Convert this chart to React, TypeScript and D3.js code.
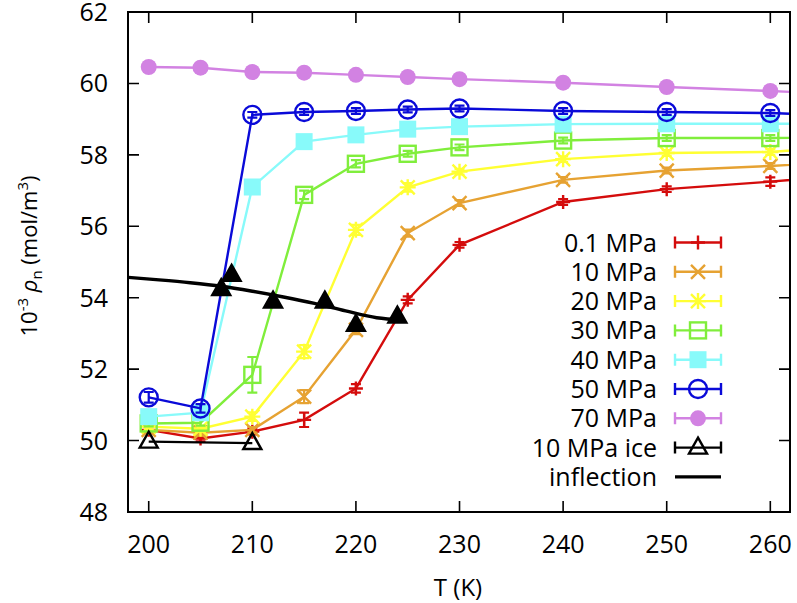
import React, { useEffect, useRef } from 'react';
import * as d3 from 'd3';

// temperatures (K); 270 lies outside the axis and is clipped
const temps = [200, 205, 210, 215, 220, 225, 230, 240, 250, 260, 270];

const seriesNames = ['0.1 MPa', '10 MPa', '20 MPa', '30 MPa', '40 MPa', '50 MPa', '70 MPa'];
const seriesColors = ['#d40c0c', '#e6a232', '#ffff33', '#80ee3c', '#88fafa', '#0a0ad8', '#d282e2'];
const seriesMarkers = ['plus', 'cross', 'star', 'square', 'fsquare', 'circle', 'fcircle'];

const rho01 = [50.3, 50.06, 50.25, 50.58, 51.46, 53.94, 55.48, 56.68, 57.04, 57.25, 57.5];
const rho10 = [50.3, 50.22, 50.3, 51.23, 53.1, 55.81, 56.65, 57.3, 57.56, 57.69, 57.85];
const rho20 = [50.39, 50.33, 50.67, 52.49, 55.9, 57.09, 57.53, 57.88, 58.05, 58.08, 58.3];
const rho30 = [50.48, 50.5, 51.84, 56.88, 57.75, 58.03, 58.21, 58.4, 58.47, 58.47, 58.5];
const rho40 = [50.67, 50.78, 57.1, 58.37, 58.56, 58.72, 58.79, 58.86, 58.87, 58.87, 58.87];
const rho50 = [51.21, 50.9, 59.12, 59.2, 59.23, 59.27, 59.3, 59.23, 59.2, 59.17, 59.08];
const rho70 = [60.46, 60.44, 60.32, 60.3, 60.24, 60.18, 60.12, 60.02, 59.9, 59.79, 59.65];

const err01 = [0.08, 0.08, 0.08, 0.2, 0.12, 0.1, 0.08, 0.08, 0.08, 0.12, 0.1];
const err10 = [0.08, 0.08, 0.08, 0.18, 0.12, 0.1, 0.08, 0.08, 0.08, 0.08, 0.08];
const err20 = [0.08, 0.08, 0.12, 0.18, 0.14, 0.12, 0.08, 0.08, 0.08, 0.08, 0.08];
const err30 = [0.08, 0.08, 0.5, 0.12, 0.1, 0.08, 0.08, 0.08, 0.08, 0.08, 0.08];
const err40 = [0.08, 0.08, 0.12, 0.08, 0.08, 0.08, 0.08, 0.08, 0.08, 0.08, 0.08];
const err50 = [0.15, 0.12, 0.08, 0.08, 0.08, 0.08, 0.08, 0.08, 0.08, 0.08, 0.08];
const err70 = [0.06, 0.06, 0.06, 0.06, 0.06, 0.06, 0.06, 0.06, 0.06, 0.06, 0.06];

const allRho = [rho01, rho10, rho20, rho30, rho40, rho50, rho70];
const allErr = [err01, err10, err20, err30, err40, err50, err70];

// 10 MPa ice
const iceTemps = [200, 210];
const iceRho = [49.97, 49.93];

// inflection points (filled triangles)
const inflTemps = [207, 208, 212, 217, 220, 224];
const inflRho = [54.24, 54.64, 53.89, 53.89, 53.24, 53.47];

// inflection curve
const curveTemps = [198, 201, 204, 207, 210, 213, 216, 219, 222, 224.5];
const curveRho = [54.57, 54.5, 54.42, 54.32, 54.18, 54.02, 53.84, 53.63, 53.44, 53.38];

const xTicks = [200, 210, 220, 230, 240, 250, 260];
const yTicks = [48, 50, 52, 54, 56, 58, 60, 62];

const FONT = '"Open Sans", sans-serif';

function drawMarker(g: any, type: string, x: number, y: number, color: string) {
  const sw = 2.4;
  if (type === 'plus') {
    g.append('path').attr('d', `M${x - 7},${y}H${x + 7}M${x},${y - 7}V${y + 7}`)
      .attr('stroke', color).attr('stroke-width', sw);
  } else if (type === 'cross') {
    g.append('path').attr('d', `M${x - 7},${y - 7}L${x + 7},${y + 7}M${x - 7},${y + 7}L${x + 7},${y - 7}`)
      .attr('stroke', color).attr('stroke-width', sw);
  } else if (type === 'star') {
    g.append('path').attr('d', `M${x - 7},${y - 7}L${x + 7},${y + 7}M${x - 7},${y + 7}L${x + 7},${y - 7}M${x - 8},${y}H${x + 8}M${x},${y - 8}V${y + 8}`)
      .attr('stroke', color).attr('stroke-width', sw);
  } else if (type === 'square') {
    g.append('rect').attr('x', x - 8).attr('y', y - 8).attr('width', 16).attr('height', 16)
      .attr('fill', 'none').attr('stroke', color).attr('stroke-width', sw);
  } else if (type === 'fsquare') {
    g.append('rect').attr('x', x - 8.5).attr('y', y - 8.5).attr('width', 17).attr('height', 17)
      .attr('fill', color);
  } else if (type === 'circle') {
    g.append('circle').attr('cx', x).attr('cy', y).attr('r', 9)
      .attr('fill', 'none').attr('stroke', color).attr('stroke-width', sw);
  } else if (type === 'fcircle') {
    g.append('circle').attr('cx', x).attr('cy', y).attr('r', 8).attr('fill', color);
  } else if (type === 'triangle' || type === 'ftriangle') {
    g.append('path').attr('d', `M${x},${y - 10}L${x + 9},${y + 6}L${x - 9},${y + 6}Z`)
      .attr('fill', type === 'ftriangle' ? color : 'none')
      .attr('stroke', color).attr('stroke-width', sw).attr('stroke-linejoin', 'miter');
  }
}

export default function App() {
  const ref = useRef<SVGSVGElement>(null);

  useEffect(() => {
    const width = 797;
    const height = 603;
    const margins = { l: 128, r: 7, t: 12, b: 91 };
    const plotwidth = width - margins.l - margins.r;
    const plotheight = height - margins.t - margins.b;

    const svg = d3.select(ref.current);
    svg.selectAll('*').remove();

    const xScale = d3.scaleLinear().domain([198, 261.9]).range([0, plotwidth]);
    const yScale = d3.scaleLinear().domain([48, 62]).range([plotheight, 0]);

    svg.append('defs').append('clipPath').attr('id', 'plotclip')
      .append('rect').attr('x', 0).attr('y', 0).attr('width', plotwidth).attr('height', plotheight);

    const plot = svg.append('g').attr('transform', `translate(${margins.l}, ${margins.t})`);
    const data = plot.append('g').attr('clip-path', 'url(#plotclip)');

    const line = d3.line<[number, number]>().x((d) => xScale(d[0])).y((d) => yScale(d[1]));

    // pressure series
    allRho.forEach((rho, si) => {
      const color = seriesColors[si];
      const pts: [number, number][] = temps.map((t, i) => [t, rho[i]]);
      const g = data.append('g');
      g.append('path').attr('d', line(pts)).attr('fill', 'none')
        .attr('stroke', color).attr('stroke-width', 2.4);
      temps.forEach((t, i) => {
        const x = xScale(t);
        const y0 = yScale(rho[i] - allErr[si][i]);
        const y1 = yScale(rho[i] + allErr[si][i]);
        g.append('path').attr('d', `M${x},${y0}V${y1}M${x - 5},${y0}H${x + 5}M${x - 5},${y1}H${x + 5}`)
          .attr('stroke', color).attr('stroke-width', 2.2).attr('fill', 'none');
        drawMarker(g, seriesMarkers[si], x, yScale(rho[i]), color);
      });
    });

    // 10 MPa ice
    const iceG = data.append('g');
    iceG.append('path').attr('d', line(iceTemps.map((t, i) => [t, iceRho[i]] as [number, number])))
      .attr('fill', 'none').attr('stroke', '#000').attr('stroke-width', 2.2);
    iceTemps.forEach((t, i) => drawMarker(iceG, 'triangle', xScale(t), yScale(iceRho[i]), '#000'));

    // inflection curve + points
    const smooth = d3.line<[number, number]>().x((d) => xScale(d[0])).y((d) => yScale(d[1])).curve(d3.curveMonotoneX);
    data.append('path').attr('d', smooth(curveTemps.map((t, i) => [t, curveRho[i]] as [number, number])))
      .attr('fill', 'none').attr('stroke', '#000').attr('stroke-width', 3.4);
    const inflG = data.append('g');
    inflTemps.forEach((t, i) => drawMarker(inflG, 'ftriangle', xScale(t), yScale(inflRho[i]), '#000'));

    // frame and ticks
    plot.append('rect').attr('width', plotwidth).attr('height', plotheight)
      .attr('fill', 'none').attr('stroke', '#000').attr('stroke-width', 2);
    const tickLen = 11;
    xTicks.forEach((t) => {
      const x = xScale(t);
      plot.append('path').attr('d', `M${x},${plotheight}v${-tickLen}M${x},0v${tickLen}`)
        .attr('stroke', '#000').attr('stroke-width', 1.6);
      plot.append('text').attr('x', x).attr('y', plotheight + 41)
        .attr('text-anchor', 'middle').attr('font-family', FONT).attr('font-size', 25)
        .text(String(t));
    });
    yTicks.forEach((v) => {
      const y = yScale(v);
      plot.append('path').attr('d', `M0,${y}h${tickLen}M${plotwidth},${y}h${-tickLen}`)
        .attr('stroke', '#000').attr('stroke-width', 1.6);
      plot.append('text').attr('x', -20).attr('y', y + 9)
        .attr('text-anchor', 'end').attr('font-family', FONT).attr('font-size', 25)
        .text(String(v));
    });

    // axis titles
    svg.append('text').attr('x', 458).attr('y', 596).attr('text-anchor', 'middle')
      .attr('font-family', FONT).attr('font-size', 24).text('T (K)');

    const yl = svg.append('text').attr('transform', 'translate(37, 256) rotate(-90)')
      .attr('text-anchor', 'middle').attr('font-family', FONT).attr('font-size', 22);
    yl.append('tspan').text('10');
    yl.append('tspan').attr('font-size', 15).attr('dy', -9).text('-3');
    yl.append('tspan').attr('dy', 9).text(' ');
    yl.append('tspan').attr('font-style', 'italic').text('ρ');
    yl.append('tspan').attr('font-size', 15).attr('dy', 5).text('n');
    yl.append('tspan').attr('dy', -5).text(' (mol/m');
    yl.append('tspan').attr('font-size', 15).attr('dy', -9).text('3');
    yl.append('tspan').attr('dy', 9).text(')');

    // legend
    const legendNames = [...seriesNames, '10 MPa ice', 'inflection'];
    const legendColors = [...seriesColors, '#000', '#000'];
    const legendMarkers = [...seriesMarkers, 'triangle', 'none'];
    const legend = svg.append('g');
    legendNames.forEach((name, i) => {
      const y = 242.5 + i * 29.3;
      legend.append('text').attr('x', 657).attr('y', y + 9).attr('text-anchor', 'end')
        .attr('font-family', FONT).attr('font-size', 25).text(name);
      const color = legendColors[i];
      if (name === 'inflection') {
        legend.append('path').attr('d', `M675,${y}H721`).attr('stroke', color).attr('stroke-width', 3.4);
        return;
      }
      legend.append('path').attr('d', `M675,${y}H721M675,${y - 6}V${y + 6}M721,${y - 6}V${y + 6}`)
        .attr('stroke', color).attr('stroke-width', 2.4).attr('fill', 'none');
      drawMarker(legend, legendMarkers[i], 698, y, color);
    });
  }, []);

  return (
    <svg ref={ref} width={797} height={603}
      style={{ position: 'absolute', left: 0, top: 0, background: '#fff' }} />
  );
}
